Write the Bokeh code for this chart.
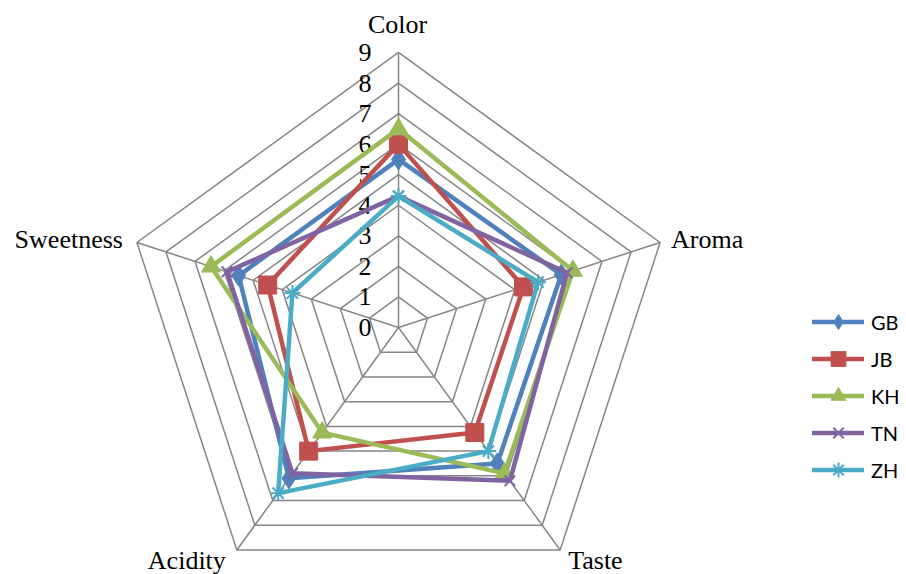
import numpy as np
from bokeh.plotting import figure
from bokeh.models import Range1d, Legend, LegendItem, ColumnDataSource
from bokeh.core.properties import value
from bokeh.embed import file_html
from bokeh.resources import INLINE

# Sensory scores per sample, one value per attribute
categories = ["Color", "Aroma", "Taste", "Acidity", "Sweetness"]
series_names = ["GB", "JB", "KH", "TN", "ZH"]
gb = [5.5, 5.6, 5.5, 6.1, 5.5]
jb = [6.0, 4.3, 4.25, 5.0, 4.5]
kh = [6.5, 6.0, 5.9, 4.25, 6.45]
tn = [4.3, 5.8, 6.2, 5.9, 5.9]
zh = [4.3, 4.8, 5.0, 6.7, 3.65]
tick_values = list(range(0, 10))
tick_labels = [str(v) for v in tick_values]

# Styling
colors = ["#4F81BD", "#C0504D", "#9BBB59", "#8064A2", "#4BACC6"]
markers = ["diamond", "square", "triangle", "x", "asterisk"]
marker_sizes = [21, 18, 19, 15, 16]
grid_color = "#868686"

W, H = 906, 574
cx, cy = 398, 327          # pixel position of the centre
unit = 30.56               # pixels per score point

p = figure(width=W, height=H, output_backend="svg", toolbar_location=None,
           x_axis_type=None, y_axis_type=None, min_border=0,
           x_range=Range1d(-cx / unit, (W - cx) / unit),
           y_range=Range1d(-(H - cy) / unit, cy / unit))
p.grid.visible = False
p.outline_line_color = None
p.background_fill_color = "white"
p.border_fill_color = "white"

n = len(categories)
angles = np.deg2rad(90 - 72 * np.arange(n))
ca, sa = np.cos(angles), np.sin(angles)
rmax = tick_values[-1]

# Concentric pentagons
for r in tick_values[1:]:
    p.line(list(r * ca) + [r * ca[0]], list(r * sa) + [r * sa[0]],
           line_color=grid_color, line_width=1.5)
# Spokes
for i in range(n):
    p.line([0, rmax * ca[i]], [0, rmax * sa[i]], line_color=grid_color, line_width=1.5)

# Scale labels on the vertical spoke
p.text(x=[0] * len(tick_values), y=tick_values, text=tick_labels,
       text_font=value("Liberation Serif"), text_font_size="26px",
       text_align="right", text_baseline="middle", text_color="black",
       x_offset=-27, y_offset=0)

# Attribute labels around the outer ring
lab_src = ColumnDataSource(dict(
    x=list(rmax * ca), y=list(rmax * sa), text=categories,
    align=["center", "left", "left", "right", "right"],
    dx=[-1, 11, 8, -11, -14], dy=[-28, -3, 10, 10, -3]))
p.text(x="x", y="y", text="text", source=lab_src,
       text_font=value("Liberation Serif"), text_font_size="26px",
       text_align="align", text_baseline="alphabetic", text_color="black",
       x_offset="dx", y_offset="dy")

items = []
for name, vals, col, mk, ms in zip(series_names, [gb, jb, kh, tn, zh], colors, markers, marker_sizes):
    v = np.array(vals, dtype=float)
    xs, ys = v * ca, v * sa
    lr = p.line(list(xs) + [xs[0]], list(ys) + [ys[0]], line_color=col,
                line_width=4.5, line_join="round", line_cap="round")
    sr = p.scatter(xs, ys, marker=mk, size=ms, fill_color=col, line_color=col,
                   line_width=2 if mk in ("x", "asterisk") else 1)
    items.append(LegendItem(label=name, renderers=[lr, sr]))

legend = Legend(items=items, location=(812, 86), orientation="vertical",
                glyph_width=52, glyph_height=37, spacing=0, padding=0, margin=0,
                label_standoff=7, label_text_font="Lato", label_text_font_size="20px",
                label_text_color="black",
                label_height=37, background_fill_alpha=0, border_line_alpha=0)
p.add_layout(legend)

open("out.html", "w").write(file_html(p, INLINE))
